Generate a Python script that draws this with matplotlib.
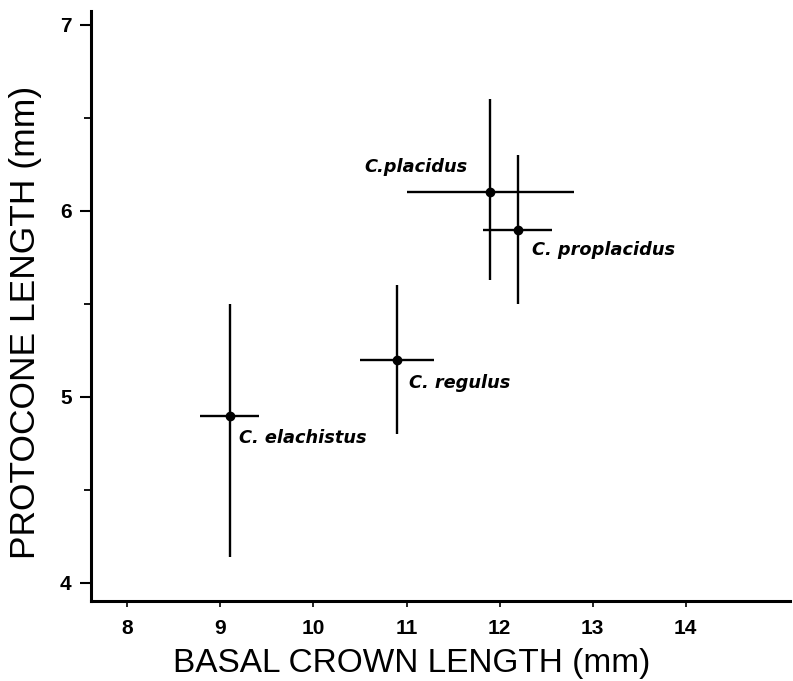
import matplotlib
matplotlib.use("Agg")
import matplotlib.pyplot as plt
import numpy as np

# species means and ranges
species = ["C. elachistus", "C. regulus", "C.placidus", "C. proplacidus"]
basal_crown = [9.1, 10.9, 11.9, 12.2]
protocone = [4.9, 5.2, 6.1, 5.9]
basal_lo = [8.78, 10.5, 11.0, 11.82]
basal_hi = [9.42, 11.3, 12.8, 12.56]
proto_lo = [4.14, 4.8, 5.63, 5.5]
proto_hi = [5.5, 5.6, 6.6, 6.3]

x = np.array(basal_crown)
y = np.array(protocone)
xerr = [x - np.array(basal_lo), np.array(basal_hi) - x]
yerr = [y - np.array(proto_lo), np.array(proto_hi) - y]

plt.rcParams["font.family"] = ["Liberation Sans", "DejaVu Sans"]

fig = plt.figure(figsize=(7.93, 6.81), dpi=100)
ax = fig.add_axes([91 / 793, 80 / 681, 699 / 793, 590 / 681])

ax.errorbar(x, y, xerr=xerr, yerr=yerr, fmt="o", color="black",
            markersize=6, elinewidth=1.7, capsize=0, zorder=3)

# species labels (offsets in points from each mean)
offsets = [(6.7, -16), (8.6, -17), (-16.5, 18.5), (10, -15)]
aligns = ["left", "left", "right", "left"]
for name, xi, yi, off, ha in zip(species, x, y, offsets, aligns):
    ax.annotate(name, (xi, yi), xytext=off, textcoords="offset points",
                ha=ha, va="center", fontsize=12.8, fontweight="bold",
                fontstyle="italic", family="DejaVu Sans")

ax.set_xlim(7.61, 15.12)
ax.set_ylim(3.903, 7.075)
ax.set_xticks(range(8, 15))
ax.set_yticks([4, 5, 6, 7])
ax.set_yticks([4.5, 5.5, 6.5], minor=True)

for side in ["top", "right"]:
    ax.spines[side].set_visible(False)
for side in ["left", "bottom"]:
    ax.spines[side].set_linewidth(2.2)

ax.tick_params(axis="y", which="major", length=8, width=1.5, labelsize=15, pad=6)
ax.tick_params(axis="y", which="minor", length=5, width=1.3)
ax.tick_params(axis="x", which="major", length=4, width=1.2, labelsize=15, pad=9)
for lab in ax.get_xticklabels() + ax.get_yticklabels():
    lab.set_fontweight("bold")

ax.set_xlabel("BASAL CROWN LENGTH (mm)", fontsize=24)
ax.set_ylabel("PROTOCONE LENGTH (mm)", fontsize=25.5)
ax.xaxis.set_label_coords(0.459, -0.080)
ax.yaxis.set_label_coords(-0.070, 0.473)

fig.savefig("out.png", dpi=100)
